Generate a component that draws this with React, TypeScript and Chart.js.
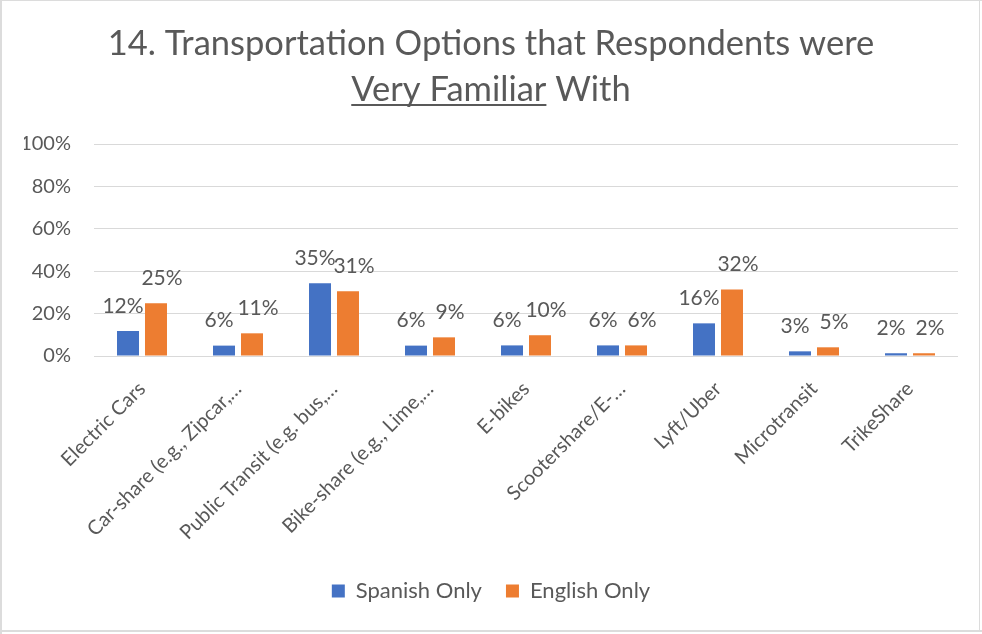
import React, { useEffect, useRef } from "react";
import { Chart, registerables } from "chart.js";

Chart.register(...registerables);

const categories = [
  "Electric Cars",
  "Car-share (e.g., Zipcar,…",
  "Public Transit (e.g. bus,…",
  "Bike-share (e.g., Lime,…",
  "E-bikes",
  "Scootershare/E-…",
  "Lyft/Uber",
  "Microtransit",
  "TrikeShare",
];
const spanishValues = [11.8, 4.9, 34.3, 4.9, 5.0, 5.0, 15.4, 2.2, 1.3];
const englishValues = [24.9, 10.7, 30.5, 8.8, 9.8, 5.0, 31.4, 4.1, 1.3];
const spanishLabels = ["12%", "6%", "35%", "6%", "6%", "6%", "16%", "3%", "2%"];
const englishLabels = ["25%", "11%", "31%", "9%", "10%", "6%", "32%", "5%", "2%"];
const seriesNames = ["Spanish Only", "English Only"];
const titleLines = ["14. Transportation Options that Respondents were", "Very Familiar With"];
const underlinedPart = "Very Familiar";

const FONT = "Lato, 'Open Sans', sans-serif";
const TEXT = "#595959";
const GRID = "#d9d9d9";
const BLUE = "#4472C4";
const ORANGE = "#ED7D31";
const TITLE_SIZE = 34.5;
const TITLE_LH = 46;
const LABEL_DX = [-5, 6];

const borderPlugin = {
  id: "frame",
  beforeDraw(chart: any) {
    const { ctx, width, height } = chart;
    ctx.save();
    ctx.fillStyle = "#ffffff";
    ctx.fillRect(0, 0, width, height);
    ctx.fillStyle = "#dcdcdc";
    ctx.fillRect(0, 0, width, 1);
    ctx.fillRect(0, 0, 2, height);
    ctx.fillRect(0, height - 4, width, 2);
    ctx.fillRect(width - 3, 0, 1, height - 4);
    ctx.restore();
  },
};

const labelPlugin = {
  id: "barLabels",
  afterDatasetsDraw(chart: any) {
    const { ctx } = chart;
    const labelSets = [spanishLabels, englishLabels];
    ctx.save();
    ctx.font = `21px ${FONT}`;
    ctx.fillStyle = TEXT;
    ctx.textAlign = "center";
    ctx.textBaseline = "middle";
    chart.data.datasets.forEach((_: any, di: number) => {
      const meta = chart.getDatasetMeta(di);
      meta.data.forEach((el: any, i: number) => {
        ctx.fillText(labelSets[di][i], el.x + LABEL_DX[di], el.y - 25);
      });
    });
    ctx.restore();
  },
};

const underlinePlugin = {
  id: "titleUnderline",
  afterDraw(chart: any) {
    const tb = chart.titleBlock;
    if (!tb) return;
    const { ctx } = chart;
    ctx.save();
    ctx.font = `${TITLE_SIZE}px ${FONT}`;
    const lineW = ctx.measureText(titleLines[1]).width;
    const partW = ctx.measureText(underlinedPart).width;
    const cx = (tb.left + tb.right) / 2;
    const x0 = cx - lineW / 2;
    const y = tb.top + TITLE_LH / 2 + TITLE_LH + 14;
    ctx.fillStyle = TEXT;
    ctx.fillRect(x0, y, partW, 2);
    ctx.restore();
  },
};

export default function App() {
  const ref = useRef<HTMLCanvasElement | null>(null);
  useEffect(() => {
    document.body.style.margin = "0";
    const canvas = ref.current;
    if (!canvas) return;
    const chart = new Chart(canvas, {
      type: "bar",
      data: {
        labels: categories,
        datasets: [
          {
            label: seriesNames[0],
            data: spanishValues,
            backgroundColor: BLUE,
            categoryPercentage: 0.583,
            barPercentage: 0.786,
          },
          {
            label: seriesNames[1],
            data: englishValues,
            backgroundColor: ORANGE,
            categoryPercentage: 0.583,
            barPercentage: 0.786,
          },
        ],
      },
      options: {
        responsive: false,
        animation: false,
        devicePixelRatio: 1,
        layout: { padding: { top: 21, bottom: 22, left: 24, right: 24 } },
        plugins: {
          title: {
            display: true,
            text: titleLines,
            color: TEXT,
            font: { family: FONT, size: TITLE_SIZE, weight: "normal", lineHeight: `${TITLE_LH}px` },
            padding: { top: 0, bottom: 31 },
          },
          legend: {
            position: "bottom",
            labels: {
              color: TEXT,
              font: { family: FONT, size: 22 },
              boxWidth: 13,
              boxHeight: 13,
              padding: 24,
            },
          },
          tooltip: { enabled: false },
        },
        scales: {
          x: {
            grid: { display: false },
            border: { display: false },
            ticks: {
              color: TEXT,
              font: { family: FONT, size: 20 },
              maxRotation: 45,
              minRotation: 45,
              autoSkip: false,
              padding: 13,
            },
            afterFit(scale: any) {
              scale.height = 200;
            },
          },
          y: {
            min: 0,
            max: 100,
            grid: { color: GRID, lineWidth: 1, drawTicks: false },
            border: { display: false },
            ticks: {
              stepSize: 20,
              color: TEXT,
              font: { family: FONT, size: 20 },
              padding: 23,
              callback: (v: any) => `${v}%`,
            },
            afterFit(scale: any) {
              scale.width = 70;
            },
          },
        },
      },
      plugins: [borderPlugin, labelPlugin, underlinePlugin],
    });
    return () => chart.destroy();
  }, []);
  return (
    <div style={{ position: "absolute", left: 0, top: 0, width: 982, height: 634 }}>
      <canvas ref={ref} width={982} height={634} style={{ width: 982, height: 634 }} />
    </div>
  );
}
